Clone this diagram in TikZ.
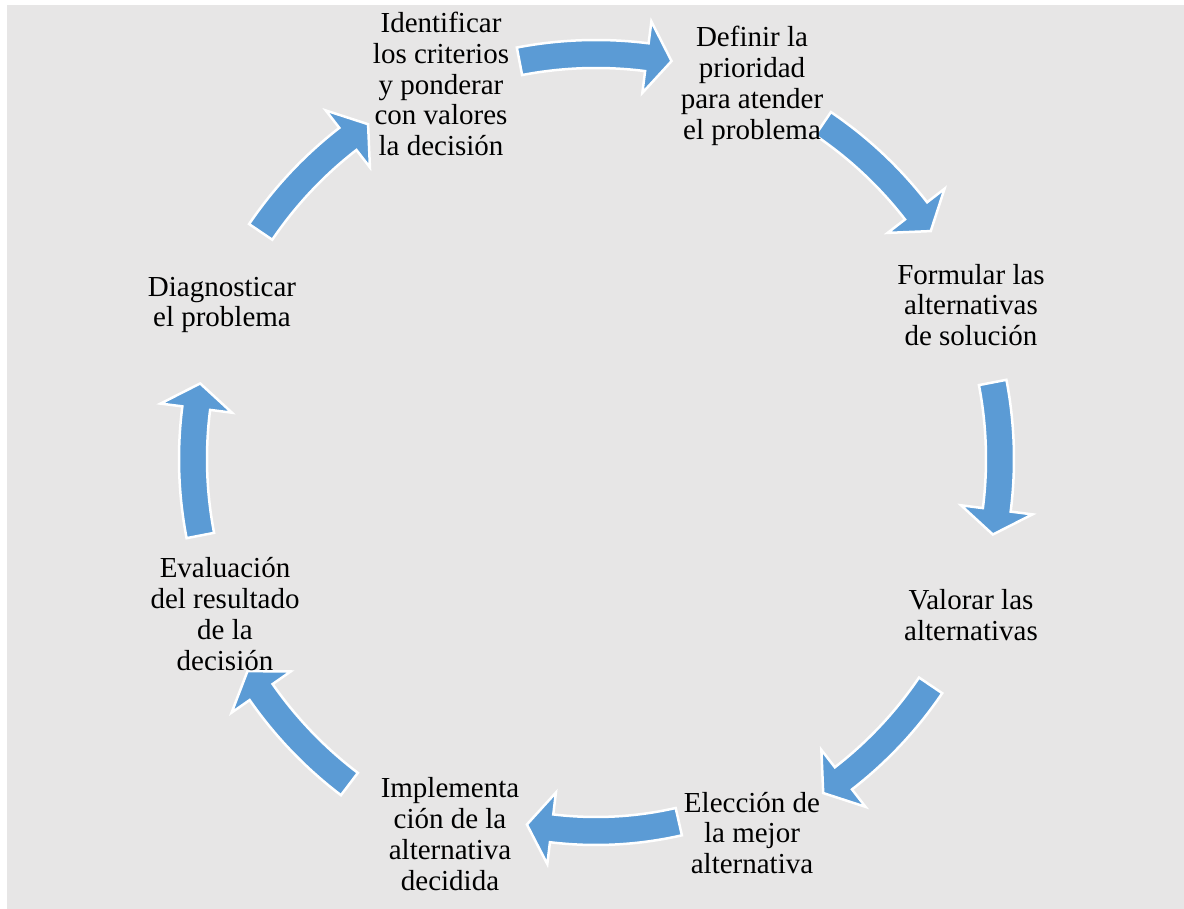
\documentclass[tikz,border=0pt]{standalone}
\usepackage{fontspec}
\setmainfont{Liberation Serif}
\definecolor{bgcol}{HTML}{E7E6E6}
\definecolor{arrcol}{HTML}{5B9BD5}
\tikzset{
  lbl/.style={align=center, font=\fontsize{29}{30.75}\selectfont, inner sep=0pt, text=black},
  carrow/.style={fill=arrcol, draw=white, line width=2.5pt, line join=miter}
}
\newcommand\cyclearrow[2]{%
  \pgfmathsetmacro\cta{#1+77/#2*57.2958}%
  \pgfmathsetmacro\ctb{#1-51/#2*57.2958}%
  \pgfmathsetmacro\ctp{#1-76/#2*57.2958}%
  \pgfmathsetmacro\crm{#2}%
  \pgfmathsetmacro\cro{#2+14}%
  \pgfmathsetmacro\cri{#2-14}%
  \pgfmathsetmacro\cho{#2+36}%
  \pgfmathsetmacro\chi{#2-36}%
  \path[carrow] (\cta:\cro pt) arc[start angle=\cta, end angle=\ctb, radius=\cro pt]
    -- (\ctb:\cho pt) -- (\ctp:\crm pt) -- (\ctb:\chi pt) -- (\ctb:\cri pt)
    arc[start angle=\ctb, end angle=\cta, radius=\cri pt] -- cycle;
}
\begin{document}
\begin{tikzpicture}[x=1pt,y=1pt]
\useasboundingbox (0,0) rectangle (1184,909);
\fill[bgcol] (7,0) rectangle (1184,904);
\begin{scope}[shift={(596,450)}]
  \cyclearrow{90}{405}
  \cyclearrow{45}{405}
  \cyclearrow{0}{404}
  \cyclearrow{-45}{404}
  \cyclearrow{-89}{372}
  \cyclearrow{-138}{408}
  \cyclearrow{180}{403}
  \cyclearrow{135}{405}
\end{scope}
\node[lbl] (n1) at (441,825) {Identificar\\los criterios\\y ponderar\\con valores\\la decisión};
\node[lbl] (n2) at (752,823) {Definir la\\prioridad\\para atender\\el problema};
\node[lbl] (n3) at (971,604) {Formular las\\alternativas\\de solución};
\node[lbl] (n4) at (971,294) {Valorar las\\alternativas};
\node[lbl] (n5) at (752,76) {Elección de\\la mejor\\alternativa};
\node[lbl] (n6) at (450,75) {Implementa\\ción de la\\alternativa\\decidida};
\node[lbl] (n7) at (225,295) {Evaluación\\del resultado\\de la\\decisión};
\node[lbl] (n8) at (222,604) {Diagnosticar\\el problema};
\end{tikzpicture}
\end{document}
